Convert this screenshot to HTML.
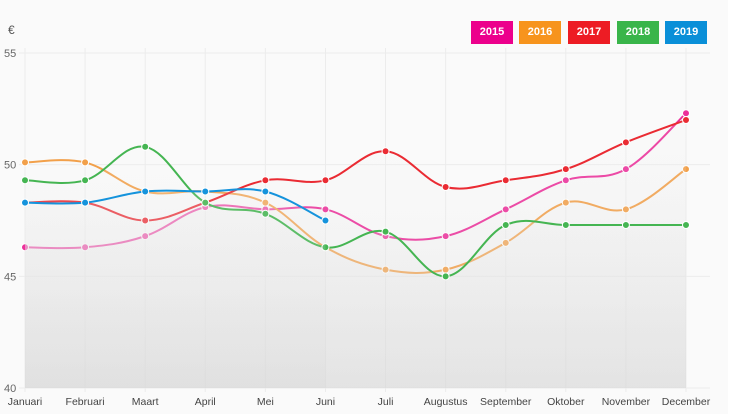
<!DOCTYPE html>
<html><head><meta charset="utf-8"><style>
body{margin:0;background:#fff;font-family:"Liberation Sans",sans-serif}
#wrap{position:relative;width:750px;height:414px;overflow:hidden}
.lg{position:absolute;top:21px;width:42px;height:23px;color:#fff;font:bold 11px "Liberation Sans",sans-serif;text-align:center;line-height:23px}
</style></head><body>
<div id="wrap">
<svg id="svg" width="750" height="414"></svg>
<div class="lg" style="left:471px;background:#ec008c">2015</div>
<div class="lg" style="left:519px;background:#f7941d">2016</div>
<div class="lg" style="left:568px;background:#ed1c24">2017</div>
<div class="lg" style="left:617px;background:#39b54a">2018</div>
<div class="lg" style="left:665px;background:#0a8fd8">2019</div>
</div>
<script>
const months=["Januari","Februari","Maart","April","Mei","Juni","Juli","Augustus","September","Oktober","November","December"];
const yTicks=[40,45,50,55];
const s2015=[46.3,46.3,46.8,48.1,48.0,48.0,46.8,46.8,48.0,49.3,49.8,52.3];
const s2016=[50.1,50.1,48.8,48.8,48.3,46.3,45.3,45.3,46.5,48.3,48.0,49.8];
const s2017=[48.3,48.3,47.5,48.3,49.3,49.3,50.6,49.0,49.3,49.8,51.0,52.0];
const s2018=[49.3,49.3,50.8,48.3,47.8,46.3,47.0,45.0,47.3,47.3,47.3,47.3];
const s2019=[48.3,48.3,48.8,48.8,48.8,47.5];
const names=["2015","2016","2017","2018","2019"];
const colors=["#ec2f9a","#f2a04a","#ea2b33","#45b552","#1593dc"];
const svg=document.getElementById('svg');const NS="http://www.w3.org/2000/svg";
const x0=25,x1=686,yTop=53,yBot=388,ymin=40,ymax=55;
const X=i=>x0+i*(x1-x0)/(months.length-1);
const Y=v=>yBot-(v-ymin)*(yBot-yTop)/(ymax-ymin);
function mk(t,a,p){const e=document.createElementNS(NS,t);for(const k in a)e.setAttribute(k,a[k]);(p||svg).appendChild(e);return e;}
mk('rect',{x:0,y:0,width:728,height:414,fill:'#fafafa'});
const defs=mk('defs',{});const g=mk('linearGradient',{id:'gr',x1:0,y1:0,x2:0,y2:1},defs);
mk('stop',{offset:'0','stop-color':'#f4f4f4','stop-opacity':'0.12'},g);mk('stop',{offset:'1','stop-color':'#d6d6d6','stop-opacity':'0.22'},g);
yTicks.forEach(v=>{const l=mk('line',{x1:x0-6,x2:710,y1:Y(v),y2:Y(v),stroke:'#ececec'});
const t=mk('text',{x:4,y:Y(v)+4,'font-size':11,fill:'#666'});t.textContent=v;});
months.forEach((m,i)=>{const l=mk('line',{x1:X(i),x2:X(i),y1:yTop-5,y2:yBot+4,stroke:'#ececec'});
const t=mk('text',{x:X(i),y:405,'font-size':10.5,fill:'#444','text-anchor':'middle'});t.textContent=m;});
const eu=mk('text',{x:8,y:34,'font-size':12,fill:'#555'});eu.textContent='€';
function path(vals){const p=vals.map((v,i)=>[X(i),Y(v)]);let d=`M${p[0][0]},${p[0][1]}`;const t=0.18;
for(let i=0;i<p.length-1;i++){const a=p[i-1]||p[i],b=p[i],c=p[i+1],e=p[i+2]||c;
d+=` C${b[0]+(c[0]-a[0])*t},${b[1]+(c[1]-a[1])*t} ${c[0]-(e[0]-b[0])*t},${c[1]-(e[1]-b[1])*t} ${c[0]},${c[1]}`;}return d;}
[s2015,s2016,s2017,s2018,s2019].forEach((s,k)=>{const d=path(s);
const a=mk('path',{d:d+` L${X(s.length-1)},${yBot} L${X(0)},${yBot} Z`,fill:'url(#gr)'});
const l=mk('path',{d:d,fill:'none',stroke:colors[k],'stroke-width':2});
s.forEach((v,i)=>{const c=mk('circle',{cx:X(i),cy:Y(v),r:3.5,fill:colors[k],stroke:'#fff','stroke-width':1});});});
</script></body></html>
